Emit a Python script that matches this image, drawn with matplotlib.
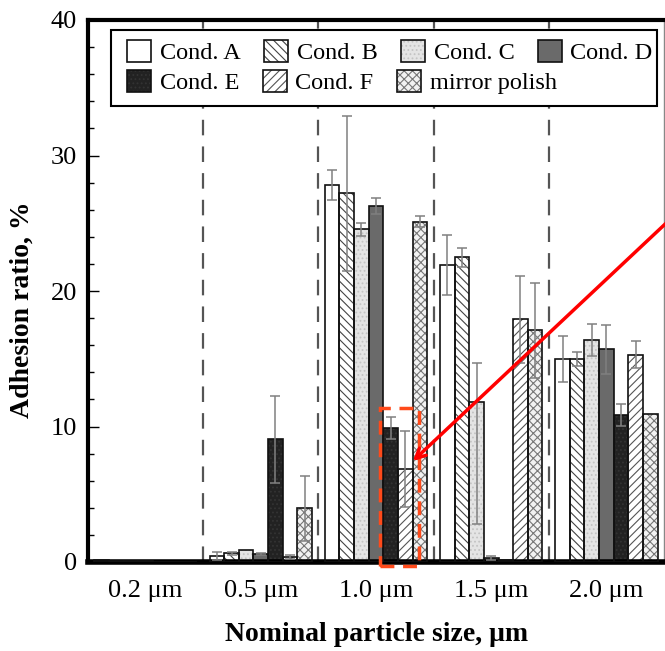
import numpy as np
import matplotlib
matplotlib.use("Agg")
from matplotlib import pyplot as plt
from matplotlib.patches import Patch, Rectangle
from matplotlib.ticker import MultipleLocator

plt.rcParams['font.family'] = ['Liberation Serif', 'DejaVu Serif']
plt.rcParams['hatch.linewidth'] = 0.8

# data
sizes = ['0.2 μm', '0.5 μm', '1.0 μm', '1.5 μm', '2.0 μm']
names = ['Cond. A', 'Cond. B', 'Cond. C', 'Cond. D', 'Cond. E', 'Cond. F', 'mirror polish']

cond_a = [0.15, 0.47, 27.8, 21.9, 15.0]
cond_b = [0.06, 0.64, 27.2, 22.5, 15.0]
cond_c = [0.04, 0.85, 24.55, 11.8, 16.4]
cond_d = [0.04, 0.6, 26.3, 0.3, 15.7]
cond_e = [0.03, 9.05, 9.9, 0.15, 10.85]
cond_f = [0.02, 0.4, 6.84, 17.9, 15.3]
mirror = [0.02, 3.96, 25.1, 17.1, 10.9]

# lower / upper error bar lengths
err_a = ([0, 0.3, 1.1, 2.2, 1.7], [0, 0.3, 1.1, 2.2, 1.7])
err_b = ([0, 0.1, 5.7, 0.7, 0.5], [0, 0.1, 5.7, 0.7, 0.5])
err_c = ([0, 0, 0.5, 9.0, 1.2], [0, 0, 0.5, 2.9, 1.2])
err_d = ([0, 0.1, 0.6, 0.15, 1.8], [0, 0.1, 0.6, 0.15, 1.8])
err_e = ([0, 3.2, 0.8, 0, 0.8], [0, 3.2, 0.8, 0, 0.8])
err_f = ([0, 0.15, 2.8, 3.2, 1.0], [0, 0.15, 2.8, 3.2, 1.0])
err_m = ([0, 2.4, 0.4, 3.5, 0], [0, 2.4, 0.4, 3.5, 0])

values = [cond_a, cond_b, cond_c, cond_d, cond_e, cond_f, mirror]
errors = [err_a, err_b, err_c, err_d, err_e, err_f, err_m]

# style per series: face colour, hatch, hatch colour
faces = ['white', 'white', '#e4e4e4', '#6a6a6a', '#222222', 'white', '#f2f2f2']
hatches = [None, '\\\\\\\\', '....', None, '....', '////', 'xxxx']
hcols = ['black', '#444444', '#c4c4c4', '#6a6a6a', '#333333', '#555555', '#777777']

fig = plt.figure(figsize=(6.65, 6.51), dpi=100)
ax = fig.add_axes([88 / 665, 89 / 651, 576 / 665, 542 / 651])

x = np.arange(len(sizes))
w = 0.127
for i in range(7):
    xs = x + (i - 3) * w
    ax.bar(xs, values[i], w, color=faces[i], hatch=hatches[i],
           edgecolor=hcols[i], linewidth=0, zorder=2)
    ax.bar(xs, values[i], w, fill=False, edgecolor='#111111',
           linewidth=1.2, zorder=3)
    lo, hi = errors[i]
    keep = [j for j in range(len(sizes)) if lo[j] > 0 or hi[j] > 0]
    if keep:
        ax.errorbar(xs[keep], np.array(values[i])[keep],
                    yerr=[np.array(lo)[keep], np.array(hi)[keep]],
                    fmt='none', ecolor='#808080', elinewidth=1.1,
                    capsize=3.5, capthick=1.1, zorder=4)

# dashed separators between groups
for b in x[:-1] + 0.5:
    ax.axvline(b, color='#555555', lw=1.6, dashes=(7, 5), zorder=1)

ax.set_xlim(-0.5, 4.5)
ax.set_ylim(0, 40)
ax.set_xticks(x)
ax.set_xticklabels(sizes)
ax.set_yticks([0, 10, 20, 30, 40])
ax.yaxis.set_minor_locator(MultipleLocator(2))
ax.tick_params(axis='x', length=0, pad=13, labelsize=19)
ax.tick_params(axis='y', which='major', direction='in', length=8, width=1,
               pad=8, labelsize=19)
ax.tick_params(axis='y', which='minor', direction='in', length=4, width=1)

ax.spines['left'].set_linewidth(3)
ax.spines['bottom'].set_linewidth(4)
ax.spines['top'].set_linewidth(3)
ax.spines['right'].set_linewidth(1)
ax.spines['right'].set_color('#888888')

fig.text(22 / 665, 0.524, 'Adhesion ratio, %', rotation=90, ha='center',
         va='center', fontsize=20, fontweight='bold')
fig.text(377 / 665, 0.0246, 'Nominal particle size, μm', ha='center',
         va='center', fontsize=20, fontweight='bold')

# legend: framed box holding two rows
ax.add_patch(Rectangle((0.0399, 0.8413), 0.9479, 0.1402, transform=ax.transAxes,
                       facecolor='white', edgecolor='black', lw=1.5, zorder=5))


def handle(i):
    return (Patch(facecolor=faces[i], hatch=hatches[i], edgecolor=hcols[i], lw=0),
            Patch(fill=False, edgecolor='#111111', lw=1.2))


leg_kw = dict(frameon=False, fontsize=17.5, handlelength=1.0, handleheight=1.0,
              handletextpad=0.35, columnspacing=0.96, borderpad=0,
              borderaxespad=0, loc='center left')
leg1 = ax.legend([handle(i) for i in range(4)], names[:4], ncol=4,
                 bbox_to_anchor=(0.0677, 0.941), **leg_kw)
leg1.set_zorder(6)
ax.add_artist(leg1)
leg2 = ax.legend([handle(i) for i in range(4, 7)], names[4:], ncol=3,
                 bbox_to_anchor=(0.0677, 0.8856), **leg_kw)
leg2.set_zorder(6)

# red highlight box and arrow
ax.add_patch(Rectangle((2.035, -0.3), 0.338, 11.67, fill=False,
                       edgecolor='#ff4a1a', lw=2.5, ls=(0, (4, 2.5)),
                       zorder=7, clip_on=False))
ax.annotate('', xy=(2.32, 7.45), xytext=(4.73, 26.7),
            arrowprops=dict(arrowstyle='->,head_length=0.7,head_width=0.35',
                            color='#ff0000', lw=2.5, shrinkA=0, shrinkB=0),
            annotation_clip=False, zorder=8)

plt.savefig('out.png', dpi=100)
